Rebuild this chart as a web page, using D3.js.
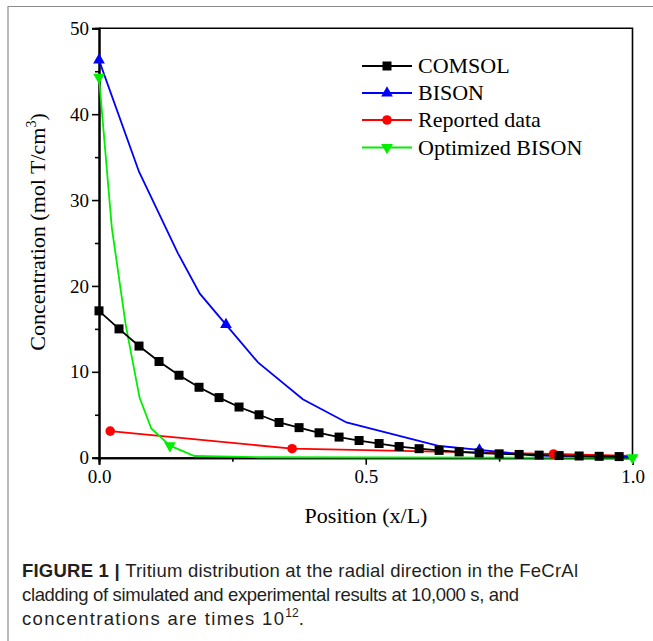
<!DOCTYPE html>
<html>
<head>
<meta charset="utf-8">
<script src="https://cdn.jsdelivr.net/npm/d3@7"></script>
<style>
  html, body { margin: 0; padding: 0; background: #fff; }
  svg { display: block; }
</style>
</head>
<body>
<svg id="chart" width="653" height="641"></svg>
<script>
// ---------- data ----------
const comsolX = [0, 0.0375, 0.075, 0.1125, 0.15, 0.1875, 0.225, 0.2625, 0.3, 0.3375, 0.375, 0.4125, 0.45, 0.4875, 0.525, 0.5625, 0.6, 0.6375, 0.675, 0.7125, 0.75, 0.7875, 0.825, 0.8625, 0.9, 0.9375, 0.975];
const comsolY = [17.1, 15.0, 13.0, 11.2, 9.6, 8.2, 7.0, 5.9, 5.0, 4.1, 3.5, 2.9, 2.4, 2.0, 1.65, 1.3, 1.05, 0.85, 0.68, 0.55, 0.45, 0.38, 0.3, 0.25, 0.2, 0.16, 0.13];

const bisonX = [0, 0.075, 0.148, 0.189, 0.238, 0.298, 0.382, 0.464, 0.638, 0.713, 0.813, 0.9, 1.0];
const bisonY = [46.3, 33.3, 23.8, 19.1, 15.5, 11.1, 6.8, 4.1, 1.36, 0.9, 0.28, 0.15, 0.08];
const bisonMarkX = [0, 0.238, 0.713];
const bisonMarkY = [46.3, 15.5, 0.9];

const reportedX = [0.021, 0.362, 0.852, 1.0];
const reportedY = [3.1, 1.05, 0.43, 0.2];

const optX = [0, 0.024, 0.05, 0.076, 0.098, 0.133, 0.179, 0.3, 1.0];
const optY = [44.3, 26.8, 15.5, 7.0, 3.4, 1.4, 0.2, 0.05, 0.0];
const optMarkX = [0, 0.133, 1.0];
const optMarkY = [44.3, 1.4, 0.0];

const yMajorTicks = [0, 10, 20, 30, 40, 50];
const yMinorTicks = [5, 15, 25, 35, 45];
const xMajorTicks = [0, 0.5, 1.0];
const xMinorTicks = [0.25, 0.75];

const legendLabels = ["COMSOL", "BISON", "Reported data", "Optimized BISON"];
const colors = ["#000000", "#0000ff", "#ff0000", "#00ee00"];

// ---------- drawing ----------
const svg = d3.select("#chart");
const serif = "'Liberation Serif', 'Times New Roman', serif";

// outer frame (gray)
svg.append("path").attr("d", "M8,641 V6.5 H653")
  .attr("fill", "none").attr("stroke", "#8c8c8c").attr("stroke-width", 1.2);

const x = d3.scaleLinear().domain([0, 1]).range([99, 632.5]);
const y = d3.scaleLinear().domain([0, 50]).range([457.7, 28.3]);

// frame top/right
svg.append("path")
  .attr("d", `M${x(0)},${y(50)} H${x(1)} V${y(0)}`)
  .attr("fill", "none").attr("stroke", "#000").attr("stroke-width", 1.6);

// axes
const yAxis = svg.append("g").attr("transform", `translate(${x(0)},0)`)
  .call(d3.axisLeft(y).tickValues(yMajorTicks).tickSize(7).tickPadding(3).tickFormat(d3.format("d")));
const yMinor = svg.append("g").attr("transform", `translate(${x(0)},0)`)
  .call(d3.axisLeft(y).tickValues(yMinorTicks).tickSize(4).tickFormat(""));
const xAxis = svg.append("g").attr("transform", `translate(0,${y(0)})`)
  .call(d3.axisBottom(x).tickValues(xMajorTicks).tickSize(7).tickPadding(5).tickFormat(d3.format(".1f")));
const xMinor = svg.append("g").attr("transform", `translate(0,${y(0)})`)
  .call(d3.axisBottom(x).tickValues(xMinorTicks).tickSize(4).tickFormat(""));

[yAxis, yMinor, xAxis, xMinor].forEach(g => {
  g.attr("font-family", serif).attr("font-size", 19);
  g.select(".domain").attr("stroke", "#000").attr("stroke-width", 2);
  g.selectAll(".tick line").attr("stroke", "#000").attr("stroke-width", 1.6);
  g.selectAll("text").attr("font-family", serif).attr("font-size", 19).attr("fill", "#000");
});

// series
const line = d3.line().x(d => x(d[0])).y(d => y(d[1]));
const zip = (a, b) => a.map((v, i) => [v, b[i]]);

const plot = svg.append("g");

function drawMarker(g, type, cx, cy, color) {
  if (type === "square") {
    g.append("rect").attr("x", cx - 4.5).attr("y", cy - 4.5).attr("width", 9).attr("height", 9).attr("fill", color);
  } else if (type === "up") {
    g.append("path").attr("d", d3.symbol(d3.symbolTriangle, 60)()).attr("transform", `translate(${cx},${cy})`).attr("fill", color);
  } else if (type === "down") {
    g.append("path").attr("d", d3.symbol(d3.symbolTriangle, 60)()).attr("transform", `translate(${cx},${cy}) rotate(180)`).attr("fill", color);
  } else if (type === "circle") {
    g.append("circle").attr("cx", cx).attr("cy", cy).attr("r", 4.8).attr("fill", color);
  }
}

// reported (red)
plot.append("path").datum(zip(reportedX, reportedY)).attr("d", line)
  .attr("fill", "none").attr("stroke", colors[2]).attr("stroke-width", 1.8);
// optimized (green)
plot.append("path").datum(zip(optX, optY)).attr("d", line)
  .attr("fill", "none").attr("stroke", colors[3]).attr("stroke-width", 1.8);
// bison (blue)
plot.append("path").datum(zip(bisonX, bisonY)).attr("d", line)
  .attr("fill", "none").attr("stroke", colors[1]).attr("stroke-width", 1.8);
// comsol (black)
plot.append("path").datum(zip(comsolX, comsolY)).attr("d", line)
  .attr("fill", "none").attr("stroke", colors[0]).attr("stroke-width", 1.8);

reportedX.slice(0, 3).forEach((v, i) => drawMarker(plot, "circle", x(v), y(reportedY[i]), colors[2]));
optMarkX.forEach((v, i) => drawMarker(plot, "down", x(v), y(optMarkY[i]), colors[3]));
bisonMarkX.forEach((v, i) => drawMarker(plot, "up", x(v), y(bisonMarkY[i]), colors[1]));
comsolX.forEach((v, i) => drawMarker(plot, "square", x(v), y(comsolY[i]), colors[0]));

// legend
const markerTypes = ["square", "up", "circle", "down"];
const legY = [66, 93, 120, 147.5];
legendLabels.forEach((lab, i) => {
  const g = svg.append("g");
  g.append("line").attr("x1", 362).attr("x2", 412).attr("y1", legY[i]).attr("y2", legY[i])
    .attr("stroke", colors[i]).attr("stroke-width", 1.8);
  drawMarker(g, markerTypes[i], 387, legY[i], colors[i]);
  g.append("text").attr("x", 418).attr("y", legY[i] + 7)
    .attr("font-family", serif).attr("font-size", 22).attr("fill", "#000").text(lab);
});

// axis titles
svg.append("text").attr("x", 366).attr("y", 523).attr("text-anchor", "middle")
  .attr("font-family", serif).attr("font-size", 22).attr("fill", "#000").text("Position (x/L)");

const yt = svg.append("text").attr("transform", "translate(45,232) rotate(-90)")
  .attr("text-anchor", "middle").attr("font-family", serif).attr("font-size", 22).attr("fill", "#000");
yt.append("tspan").text("Concentration (mol T/cm");
yt.append("tspan").attr("dy", -9).attr("font-size", 14).text("3");
yt.append("tspan").attr("dy", 9).text(")");

// caption
const sans = "'Liberation Sans', Arial, sans-serif";
const capCol = "#231f20";
const capSize = 18.5;
const c1 = svg.append("text").attr("x", 22).attr("y", 577).attr("font-family", sans).attr("font-size", capSize).attr("fill", capCol)
  .attr("textLength", 556).attr("lengthAdjust", "spacing");
c1.append("tspan").attr("font-weight", "bold").text("FIGURE 1 | ");
c1.append("tspan").text("Tritium distribution at the radial direction in the FeCrAl");
svg.append("text").attr("x", 22).attr("y", 601).attr("font-family", sans).attr("font-size", capSize).attr("fill", capCol)
  .attr("textLength", 497).attr("lengthAdjust", "spacing")
  .text("cladding of simulated and experimental results at 10,000 s, and");
const c3 = svg.append("text").attr("x", 22).attr("y", 625).attr("font-family", sans).attr("font-size", capSize).attr("fill", capCol);
c3.append("tspan").attr("textLength", 262).attr("lengthAdjust", "spacing").text("concentrations are times 10");
c3.append("tspan").attr("dy", -8).attr("font-size", 12).text("12");
c3.append("tspan").attr("dy", 8).text(".");
</script>
</body>
</html>
